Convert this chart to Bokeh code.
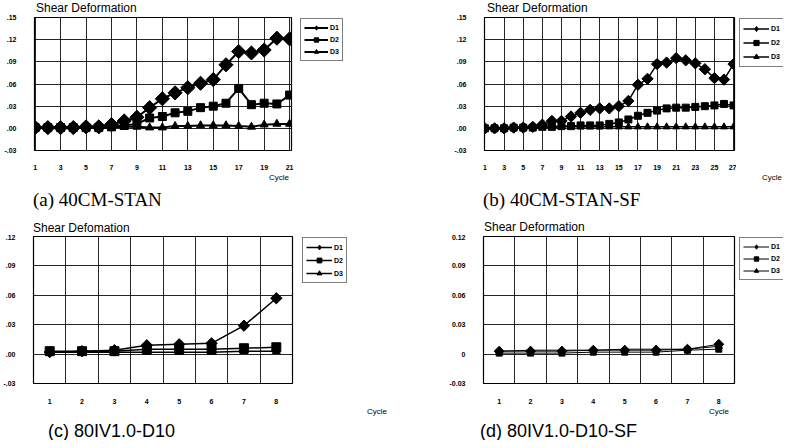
import math
from bokeh.plotting import figure
from bokeh.models import Range1d, FixedTicker, Legend, LegendItem, Div
from bokeh.layouts import column, row
from bokeh.embed import file_html
from bokeh.resources import INLINE

# ---------------- data ----------------
series_names = ["D1", "D2", "D3"]

a_cycle = list(range(1, 22))
a_d1 = [0.001, 0.001, 0.001, 0.001, 0.002, 0.002, 0.005, 0.010, 0.015, 0.028, 0.040,
        0.048, 0.055, 0.061, 0.066, 0.086, 0.104, 0.102, 0.106, 0.122, 0.121]
a_d2 = [0.001, 0.001, 0.001, 0.001, 0.001, 0.001, 0.002, 0.004, 0.006, 0.014, 0.016,
        0.021, 0.023, 0.028, 0.030, 0.034, 0.054, 0.032, 0.034, 0.033, 0.045]
a_d3 = [0.001, 0.001, 0.001, 0.001, 0.001, 0.001, 0.001, 0.002, 0.002, 0.001, 0.001,
        0.003, 0.003, 0.004, 0.004, 0.004, 0.003, 0.002, 0.005, 0.006, 0.006]

b_cycle = list(range(1, 28))
b_d1 = [0.000, 0.000, 0.000, 0.001, 0.001, 0.002, 0.005, 0.010, 0.010, 0.016, 0.021,
        0.025, 0.027, 0.027, 0.030, 0.037, 0.059, 0.067, 0.087, 0.089, 0.095, 0.092,
        0.088, 0.080, 0.068, 0.066, 0.087]
b_d2 = [0.000, 0.000, 0.000, 0.001, 0.001, 0.001, 0.002, 0.002, 0.003, 0.003, 0.004,
        0.004, 0.004, 0.006, 0.008, 0.012, 0.017, 0.021, 0.024, 0.027, 0.028, 0.028,
        0.029, 0.030, 0.031, 0.033, 0.031]
b_d3 = [0.000, 0.000, 0.000, 0.001, 0.001, 0.001, 0.001, 0.001, 0.002, 0.002, 0.002,
        0.002, 0.002, 0.002, 0.002, 0.002, 0.002, 0.002, 0.002, 0.002, 0.002, 0.002,
        0.002, 0.002, 0.002, 0.002, 0.002]

c_cycle = list(range(1, 9))
c_d1 = [0.002, 0.003, 0.004, 0.009, 0.010, 0.011, 0.029, 0.057]
c_d2 = [0.003, 0.003, 0.003, 0.005, 0.005, 0.005, 0.006, 0.007]
c_d3 = [0.002, 0.002, 0.002, 0.002, 0.002, 0.002, 0.003, 0.003]

d_cycle = list(range(1, 9))
d_d1 = [0.003, 0.003, 0.003, 0.004, 0.004, 0.004, 0.005, 0.010]
d_d2 = [0.001, 0.001, 0.001, 0.002, 0.002, 0.002, 0.004, 0.005]
d_d3 = [0.003, 0.004, 0.004, 0.004, 0.005, 0.005, 0.005, 0.008]

ab_yticks = [-0.03, 0.0, 0.03, 0.06, 0.09, 0.12, 0.15]
ab_ylabels = ["-.03", ".00", ".03", ".06", ".09", ".12", ".15"]
c_yticks = [-0.03, 0.0, 0.03, 0.06, 0.09, 0.12]
c_ylabels = ["-.03", ".00", ".03", ".06", ".09", ".12"]
d_yticks = [-0.03, 0.0, 0.03, 0.06, 0.09, 0.12]
d_ylabels = ["-0.03", "0", "0.03", "0.06", "0.09", "0.12"]

a_xticks = a_cycle[::2]
b_xticks = b_cycle[::2]

titles = ["Shear Deformation", "Shear Deformation", "Shear Defomation", "Shear Deformation"]
captions = ["(a) 40CM-STAN", "(b) 40CM-STAN-SF", "(c) 80IV1.0-D10", "(d) 80IV1.0-D10-SF"]
x_title = "Cycle"

SANS = "Liberation Sans"
SERIF = "Liberation Serif"


def panel(width, height, borders, xr, yr, xticks, xgrid, yticks, ylabels, cycles, ys,
          msizes, lw, xstand):
    left, right, top, bottom = borders
    p = figure(width=width, height=height, x_range=Range1d(*xr), y_range=Range1d(*yr),
               output_backend="svg", toolbar_location=None, tools="",
               min_border_left=left, min_border_right=right,
               min_border_top=top, min_border_bottom=bottom)
    p.background_fill_color = "white"
    p.border_fill_color = "white"
    p.outline_line_color = "black"
    p.outline_line_width = 1.2

    for ax in (p.xaxis[0], p.yaxis[0]):
        ax.axis_line_color = None
        ax.major_tick_line_color = None
        ax.minor_tick_line_color = None
        ax.major_label_text_font = SANS
        ax.major_label_text_font_size = "7px"
        ax.major_label_text_font_style = "bold"
        ax.major_label_text_color = "black"
    p.xaxis[0].ticker = FixedTicker(ticks=xticks)
    p.xaxis[0].major_label_standoff = xstand
    p.yaxis[0].ticker = FixedTicker(ticks=yticks)
    p.yaxis[0].major_label_overrides = dict(zip(yticks, ylabels))
    p.yaxis[0].major_label_standoff = 12

    p.xgrid[0].ticker = FixedTicker(ticks=xgrid)
    p.ygrid[0].ticker = FixedTicker(ticks=yticks)
    for g in (p.xgrid[0], p.ygrid[0]):
        g.grid_line_color = "black"
        g.grid_line_alpha = 0.85
        g.grid_line_width = 1

    markers = [("square", math.pi / 4), ("square", 0.0), ("triangle", 0.0)]
    for yv, (mk, ang), ms in zip(ys, markers, msizes):
        p.line(cycles, yv, line_color="black", line_width=lw)
        p.scatter(cycles, yv, marker=mk, angle=ang, size=ms,
                  fill_color="black", line_color="black")
    return p


def legend_box(width, height, borders, cycles, ys, msizes, lw, gw, ih):
    """A small companion figure whose frame holds the legend box."""
    left, right, top, bottom = borders
    lf = figure(width=width, height=height, x_range=Range1d(-10, -9),
                y_range=Range1d(-10, -9), output_backend="svg",
                toolbar_location=None, tools="", x_axis_location=None,
                y_axis_location=None, min_border_left=left, min_border_right=right,
                min_border_top=top, min_border_bottom=bottom)
    lf.outline_line_color = None
    lf.background_fill_color = "white"
    lf.border_fill_color = "white"
    lf.xgrid.visible = False
    lf.ygrid.visible = False
    markers = ["diamond", "square", "triangle"]
    items = []
    for name, yv, mk, ms in zip(series_names, ys, markers, msizes):
        lr = lf.line(cycles, yv, line_color="black", line_width=lw)
        sr = lf.scatter(cycles, yv, marker=mk, size=ms,
                        fill_color="black", line_color="black")
        items.append(LegendItem(label=name, renderers=[lr, sr]))
    legend = Legend(items=items, location="top_left", glyph_width=gw,
                    glyph_height=ih, label_height=ih, label_width=9, spacing=1,
                    padding=3, margin=1, label_standoff=2,
                    label_text_font=SANS, label_text_font_size="7px",
                    label_text_font_style="bold", label_text_color="black",
                    border_line_color="black",
                    border_line_width=1, background_fill_color="white",
                    background_fill_alpha=1)
    lf.add_layout(legend)
    return lf


def title_strip(width, height, text, left, top, size):
    html = (
        f'<div style="position:relative;width:{width}px;height:{height}px;'
        f'background:white;overflow:visible;">'
        f'<span style="position:absolute;left:{left}px;top:{top}px;'
        f'font-family:\'{SANS}\';font-size:{size}px;line-height:{size}px;'
        f'white-space:nowrap;color:black;">{text}</span></div>'
    )
    return Div(text=html, width=width, height=height, margin=0)


def text_strip(width, height, caption, cap_left, cap_top, cap_font, cap_size,
               cyc_css):
    html = (
        f'<div style="position:relative;width:{width}px;height:{height}px;'
        f'background:white;overflow:hidden;">'
        f'<span style="position:absolute;{cyc_css}font-family:\'{SANS}\';'
        f'font-size:8px;line-height:8px;white-space:nowrap;color:black;">{x_title}</span>'
        f'<span style="position:absolute;left:{cap_left}px;top:{cap_top}px;'
        f'font-family:\'{cap_font}\';font-size:{cap_size}px;line-height:{cap_size}px;'
        f'white-space:nowrap;color:black;">{caption}</span></div>'
    )
    return Div(text=html, width=width, height=height, margin=0)


c_grid = [v - 0.5 for v in c_cycle] + [c_cycle[-1] + 0.5]
d_grid = [v - 0.5 for v in d_cycle] + [d_cycle[-1] + 0.5]

# top row: every figure shares top border 3 and bottom border 18
pa = panel(294, 158, (34, 3, 3, 18), (0.95, 21.15), (-0.03, 0.15), a_xticks, a_xticks,
           ab_yticks, ab_ylabels, a_cycle, [a_d1, a_d2, a_d3], [10, 8, 8], 2, 8)
la = legend_box(126, 158, (5, 76, 3, 18), a_cycle, [a_d1, a_d2, a_d3], [9, 7, 7], 2,
                24, 11)
pb = panel(316, 158, (64, 2, 3, 18), (0.95, 27.1), (-0.03, 0.15), b_xticks, b_xticks,
           ab_yticks, ab_ylabels, b_cycle, [b_d1, b_d2, b_d3], [8, 7, 7], 1.5, 8)
lb = legend_box(47, 158, (2, 0, 3, 18), b_cycle, [b_d1, b_d2, b_d3], [8, 6, 6], 1.5,
                26, 13)

# bottom row: every figure shares top border 2 and bottom border 19
pc = panel(295, 172, (32, 3, 2, 19), (0.5, 8.5), (-0.03, 0.12), c_cycle, c_grid,
           c_yticks, c_ylabels, c_cycle, [c_d1, c_d2, c_d3], [8, 9, 8], 1.5, 9)
lc = legend_box(125, 172, (6, 72, 2, 19), c_cycle, [c_d1, c_d2, c_d3], [8, 7, 7], 1.5,
                26, 12)
pd_ = panel(316, 172, (63, 2, 2, 19), (0.5, 8.5), (-0.03, 0.12), d_cycle, d_grid,
            d_yticks, d_ylabels, d_cycle, [d_d1, d_d2, d_d3], [7, 6, 7], 1, 9)
ld = legend_box(47, 172, (2, 0, 2, 19), d_cycle, [d_d1, d_d2, d_d3], [8, 6, 7], 1,
                26, 11)

ta = title_strip(412, 14, titles[0], 36, 2, 12)
tb = title_strip(371, 14, titles[1], 75, 2, 12)
tc = title_strip(412, 14, titles[2], 33, 2, 12)
td = title_strip(371, 14, titles[3], 72, 1, 12)

sa = text_strip(412, 48, captions[0], 33, 18, SERIF, 19, "right:123px;top:2px;")
sb = text_strip(371, 48, captions[1], 71, 18, SERIF, 19, "right:1px;top:2px;")
sc = text_strip(412, 34, captions[2], 48, 16, SANS, 18, "right:25px;top:2px;")
sd = text_strip(371, 34, captions[3], 68, 16, SANS, 18, "left:297px;top:2px;")

layout = column(row(ta, tb), row(pa, la, pb, lb), row(sa, sb),
                row(tc, td), row(pc, lc, pd_, ld), row(sc, sd))
open("out.html", "w").write(file_html(layout, INLINE))
